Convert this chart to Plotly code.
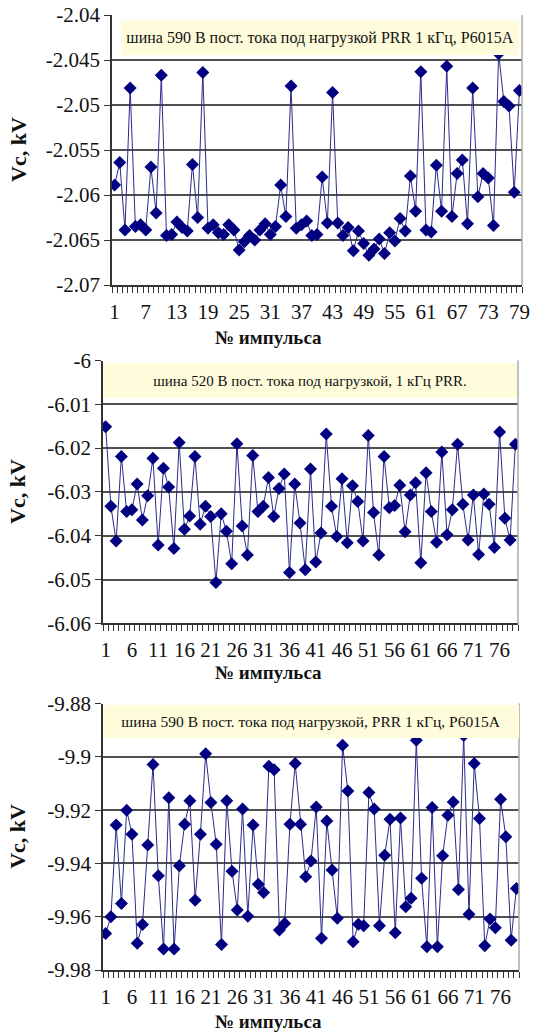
import plotly.graph_objects as go

# ---------------- data ----------------
pulse_1 = list(range(1, 80))
vc_1 = [-2.0589, -2.0564, -2.0639, -2.0481, -2.0635, -2.0633, -2.0639, -2.0569, -2.0620, -2.0467,
        -2.0645, -2.0644, -2.0630, -2.0636, -2.0640, -2.0566, -2.0625, -2.0464, -2.0637, -2.0633,
        -2.0642, -2.0644, -2.0633, -2.0639, -2.0661, -2.0652, -2.0645, -2.0650, -2.0639, -2.0632,
        -2.0644, -2.0635, -2.0589, -2.0624, -2.0479, -2.0637, -2.0633, -2.0629, -2.0645, -2.0644,
        -2.0580, -2.0631, -2.0486, -2.0631, -2.0645, -2.0636, -2.0662, -2.0640, -2.0654, -2.0667,
        -2.0660, -2.0649, -2.0665, -2.0642, -2.0651, -2.0626, -2.0640, -2.0579, -2.0618, -2.0463,
        -2.0639, -2.0641, -2.0567, -2.0618, -2.0457, -2.0624, -2.0576, -2.0561, -2.0632, -2.0481,
        -2.0602, -2.0576, -2.0581, -2.0634, -2.0443, -2.0496, -2.0501, -2.0597, -2.0484]

pulse_2 = list(range(1, 80))
vc_2 = [-6.0151, -6.0333, -6.0412, -6.0219, -6.0345, -6.0341, -6.0282, -6.0364, -6.0309, -6.0223,
        -6.0421, -6.0246, -6.0289, -6.0429, -6.0187, -6.0385, -6.0355, -6.0219, -6.0374, -6.0333,
        -6.0356, -6.0507, -6.0350, -6.0390, -6.0464, -6.0190, -6.0378, -6.0444, -6.0217, -6.0345,
        -6.0333, -6.0267, -6.0356, -6.0292, -6.0259, -6.0484, -6.0282, -6.0371, -6.0478, -6.0248,
        -6.0460, -6.0394, -6.0168, -6.0333, -6.0402, -6.0270, -6.0416, -6.0286, -6.0322, -6.0412,
        -6.0171, -6.0347, -6.0444, -6.0219, -6.0336, -6.0331, -6.0285, -6.0391, -6.0307, -6.0279,
        -6.0462, -6.0256, -6.0345, -6.0415, -6.0209, -6.0398, -6.0341, -6.0191, -6.0328, -6.0410,
        -6.0307, -6.0443, -6.0305, -6.0328, -6.0427, -6.0163, -6.0360, -6.0410, -6.0191]

pulse_3 = list(range(1, 80))
vc_3 = [-9.9663, -9.9600, -9.9256, -9.9550, -9.9200, -9.9290, -9.9700, -9.9629, -9.9331, -9.9029,
        -9.9446, -9.9721, -9.9153, -9.9721, -9.9409, -9.9253, -9.9165, -9.9538, -9.9290, -9.8988,
        -9.9171, -9.9328, -9.9704, -9.9165, -9.9429, -9.9575, -9.9196, -9.9598, -9.9256, -9.9478,
        -9.9509, -9.9035, -9.9048, -9.9650, -9.9625, -9.9253, -9.9025, -9.9253, -9.9450, -9.9391,
        -9.9188, -9.9681, -9.9241, -9.9425, -9.9606, -9.8956, -9.9128, -9.9694, -9.9628, -9.9634,
        -9.9134, -9.9196, -9.9634, -9.9369, -9.9234, -9.9660, -9.9229, -9.9563, -9.9531, -9.8938,
        -9.9456, -9.9713, -9.9190, -9.9713, -9.9371, -9.9219, -9.9169, -9.9498, -9.8920, -9.9591,
        -9.9025, -9.9231, -9.9709, -9.9609, -9.9641, -9.9159, -9.9300, -9.9688, -9.9494]

x_ticks_1 = [1, 7, 13, 19, 25, 31, 37, 43, 49, 55, 61, 67, 73, 79]
x_ticks_23 = [1, 6, 11, 16, 21, 26, 31, 36, 41, 46, 51, 56, 61, 66, 71, 76]

y_ticks_1 = [-2.04, -2.045, -2.05, -2.055, -2.06, -2.065, -2.07]
y_text_1 = ["-2.04", "-2.045", "-2.05", "-2.055", "-2.06", "-2.065", "-2.07"]
y_ticks_2 = [-6.0, -6.01, -6.02, -6.03, -6.04, -6.05, -6.06]
y_text_2 = ["-6", "-6.01", "-6.02", "-6.03", "-6.04", "-6.05", "-6.06"]
y_ticks_3 = [-9.88, -9.9, -9.92, -9.94, -9.96, -9.98]
y_text_3 = ["-9.88", "-9.9", "-9.92", "-9.94", "-9.96", "-9.98"]

titles = ["шина 590 В пост. тока под нагрузкой PRR 1 кГц, P6015A",
          "шина 520 В пост. тока под нагрузкой, 1 кГц PRR.",
          "шина 590 В пост. тока под нагрузкой, PRR 1 кГц, P6015A"]
x_title = "№ импульса"
y_title = "Vc, kV"

# ---------------- styling ----------------
W, H = 533, 1033
SERIF = "Liberation Serif"
NAVY = "#000080"
LINE = "#2B2B8C"
GRID = "#505050"
AXIS = "#333333"

# pixel layout of the three panels: (left, right, top, bottom)
panels = [(112, 522, 15, 285), (103, 518, 360.5, 623.3), (103, 519, 703.6, 970)]
boxes = [(121, 519, 20, 55), (103, 517, 363, 398), (103, 519, 705, 738)]
box_font = [16, 15, 15.5]
xlabel_y = [337, 672, 1021]

fig = go.Figure()

series = [(pulse_1, vc_1), (pulse_2, vc_2), (pulse_3, vc_3)]
yticks = [(y_ticks_1, y_text_1), (y_ticks_2, y_text_2), (y_ticks_3, y_text_3)]
xticks = [x_ticks_1, x_ticks_23, x_ticks_23]

for i, ((xs, ys), (yt, ytt), xt, (l, r, t, b)) in enumerate(zip(series, yticks, xticks, panels)):
    n = "" if i == 0 else str(i + 1)
    fig.add_trace(go.Scatter(
        x=xs, y=ys, mode="lines+markers",
        line=dict(color=LINE, width=1),
        marker=dict(symbol="diamond", size=10, color=NAVY),
        xaxis="x" + n, yaxis="y" + n, showlegend=False, cliponaxis=True,
    ))
    fig.update_layout(**{
        "xaxis" + n: dict(
            domain=[l / W, r / W], anchor="y" + n, automargin=False,
            range=[0.5, len(xs) + 0.5],
            tickmode="array", tickvals=xt, ticktext=[str(v) for v in xt],
            ticks="outside", ticklen=7, tickcolor="rgba(0,0,0,0)",
            minor=dict(ticks="outside", ticklen=6, tickcolor=AXIS, tickwidth=1,
                       tickmode="linear", tick0=0.5, dtick=1, showgrid=False),
            showline=True, linecolor=AXIS, linewidth=1.5,
            showgrid=False, zeroline=False,
            tickfont=dict(family=SERIF, size=21, color="#111"),
        ),
        "yaxis" + n: dict(
            domain=[1 - b / H, 1 - t / H], anchor="x" + n, automargin=False,
            range=[min(yt), max(yt)],
            tickmode="array", tickvals=yt, ticktext=ytt,
            ticks="outside", ticklen=6, tickcolor=AXIS,
            showline=True, linecolor=AXIS, linewidth=1.5,
            showgrid=True, gridcolor=GRID, gridwidth=1.5, zeroline=False,
            tickfont=dict(family=SERIF, size=21, color="#111"),
        ),
    })
    # right border of the plot area
    fig.add_shape(type="line", xref="x" + n + " domain", yref="y" + n + " domain",
                  x0=1, x1=1, y0=0, y1=1, line=dict(color="#AAAAAA", width=1.5))
    # title box
    bl, br, bt, bb = boxes[i]
    fig.add_annotation(
        xref="paper", yref="paper", x=(bl + br) / 2 / W, y=1 - (bt + bb) / 2 / H,
        xanchor="center", yanchor="middle", showarrow=False,
        text=titles[i], width=br - bl, height=bb - bt, borderpad=0, borderwidth=0,
        bgcolor="#FFFCDC", font=dict(family=SERIF, size=box_font[i], color="#111"),
    )
    # axis titles
    fig.add_annotation(
        xref="paper", yref="paper", x=268 / W, y=1 - xlabel_y[i] / H,
        xanchor="center", yanchor="middle", showarrow=False,
        text="<b>" + x_title + "</b>", font=dict(family=SERIF, size=19, color="#111"),
    )
    fig.add_annotation(
        xref="paper", yref="paper", x=18 / W, y=1 - (t + b) / 2 / H,
        xanchor="center", yanchor="middle", showarrow=False, textangle=-90,
        text="<b>" + y_title + "</b>", font=dict(family=SERIF, size=22, color="#111"),
    )

fig.update_layout(
    width=W, height=H, margin=dict(l=0, r=0, t=0, b=0, autoexpand=False),
    paper_bgcolor="white", plot_bgcolor="white",
)

fig.write_html("out.html", config={"displayModeBar": False},
               post_script="document.body.style.margin='0px';")
